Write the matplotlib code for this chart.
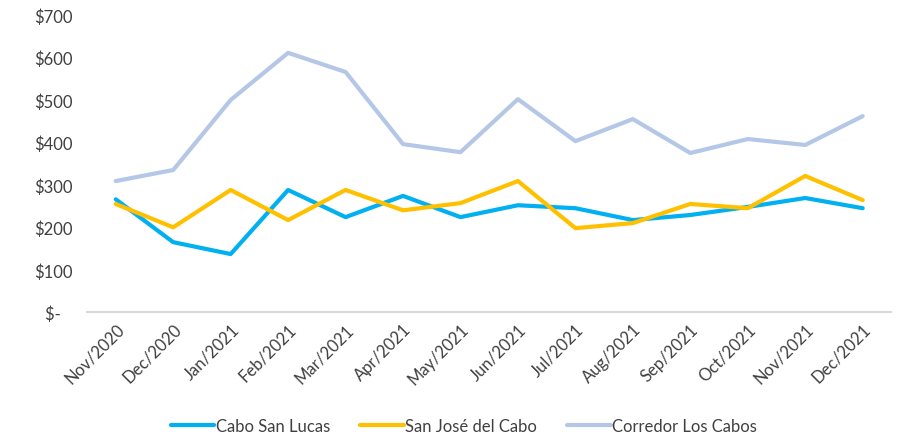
import matplotlib
matplotlib.use("Agg")
import matplotlib.pyplot as plt
from matplotlib.ticker import FuncFormatter

plt.rcParams['font.family'] = ['Lato', 'DejaVu Sans']

months = ['Nov/2020', 'Dec/2020', 'Jan/2021', 'Feb/2021', 'Mar/2021', 'Apr/2021', 'May/2021',
          'Jun/2021', 'Jul/2021', 'Aug/2021', 'Sep/2021', 'Oct/2021', 'Nov/2021', 'Dec/2021']
cabo_san_lucas = [266, 165, 137, 288, 224, 274, 224, 252, 245, 217, 229, 248, 269, 245]
san_jose = [255, 200, 288, 217, 288, 240, 257, 309, 198, 210, 255, 245, 321, 264]
corredor = [309, 335, 500, 611, 566, 396, 377, 502, 403, 455, 375, 408, 394, 462]

series = [
    ('Cabo San Lucas', cabo_san_lucas, '#00B0F0'),
    ('San José del Cabo', san_jose, '#FFC000'),
    ('Corredor Los Cabos', corredor, '#B4C7E7'),
]

fig = plt.figure(figsize=(9.1, 4.35), dpi=100)
ax = fig.add_axes([0.0956, 0.280, 0.884, 0.683])

x = range(len(months))
for name, vals, col in series:
    ax.plot(x, vals, color=col, linewidth=3, label=name, solid_capstyle='round')

ax.set_xlim(-0.5, len(months) - 0.5)
ax.set_ylim(0, 700)
ax.set_yticks(range(0, 701, 100))


def money(v, pos):
    # excel accounting style: zero shows as a dash
    return '$-   ' if v == 0 else f'${int(v)}'


ax.yaxis.set_major_formatter(FuncFormatter(money))
ax.set_xticks(list(x))
ax.set_xticklabels(months, rotation=45, ha='right', rotation_mode='anchor')

for s in ['top', 'right', 'left']:
    ax.spines[s].set_visible(False)
ax.spines['bottom'].set_color('#D9D9D9')
ax.spines['bottom'].set_linewidth(1.5)
ax.tick_params(axis='both', length=0, labelsize=12, colors='#404040')
ax.tick_params(axis='y', pad=10)
ax.tick_params(axis='x', pad=6)

fig.legend(loc='center', bbox_to_anchor=(0.510, 0.018), ncol=3, frameon=False,
           fontsize=12, handlelength=2.6, columnspacing=1.8, handletextpad=0.1,
           labelcolor='#404040')

fig.savefig('out.png', dpi=100)
